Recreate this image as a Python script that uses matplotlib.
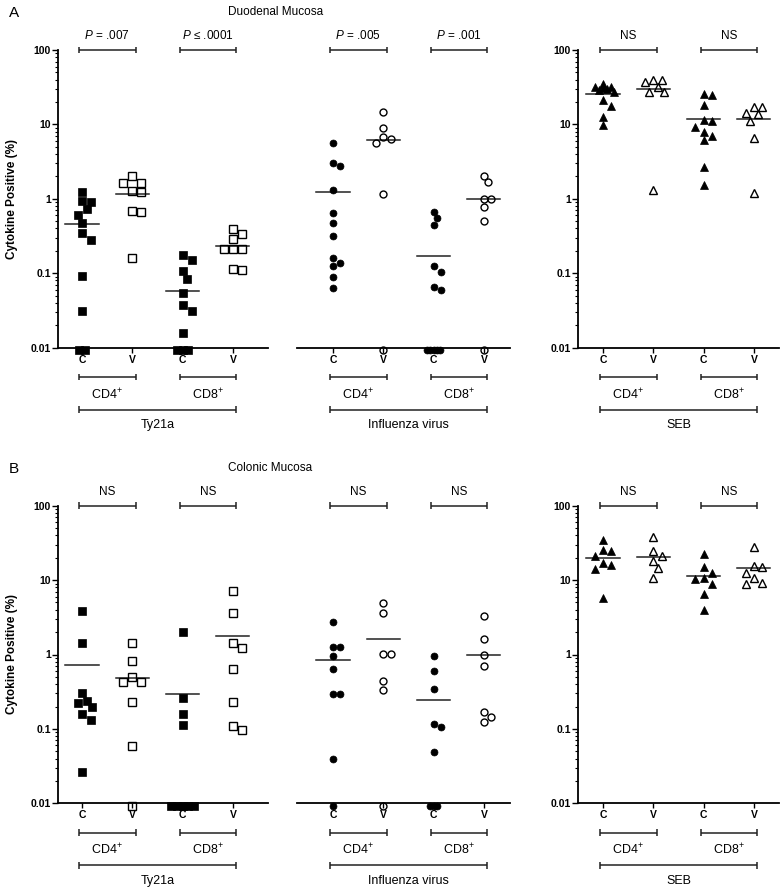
import numpy as np
import matplotlib
matplotlib.use("Agg")
import matplotlib.pyplot as plt
import matplotlib.transforms as mtrans
from matplotlib.ticker import FixedLocator, FixedFormatter, LogLocator, NullFormatter

plt.rcParams['font.family'] = ['Liberation Sans', 'DejaVu Sans']
plt.rcParams['mathtext.fontset'] = 'custom'
plt.rcParams['mathtext.rm'] = 'Liberation Sans'
plt.rcParams['mathtext.it'] = 'Liberation Sans:italic'
plt.rcParams['mathtext.bf'] = 'Liberation Sans:bold'

# ---------------- labels ----------------
cell_labels = ["C", "V", "C", "V"]
subset_labels = ["CD4$^{+}$", "CD8$^{+}$"]
stimuli = ["Ty21a", "Influenza virus", "SEB"]
panel_letters = ["A", "B"]
panel_titles = ["Duodenal Mucosa", "Colonic Mucosa"]
y_label = "Cytokine Positive (%)"
y_ticks = [0.01, 0.1, 1, 10, 100]
y_tick_labels = ["0.01", "0.1", "1", "10", "100"]

duo_p_labels = [["$P$ = .007", "$P$ ≤ .0001"], ["$P$ = .005", "$P$ = .001"], ["NS", "NS"]]
col_p_labels = [["NS", "NS"], ["NS", "NS"], ["NS", "NS"]]

# ---------------- data (% cytokine positive; 0.01 = at/below detection) ----------------
# Duodenal mucosa
duo_ty_cd4_c = [1.23, 0.93, 0.91, 0.72, 0.61, 0.47, 0.35, 0.28, 0.092, 0.031, 0.01, 0.01]
duo_ty_cd4_v = [2.05, 1.65, 1.65, 1.29, 1.22, 0.69, 0.67, 0.16]
duo_ty_cd8_c = [0.176, 0.15, 0.108, 0.085, 0.055, 0.037, 0.031, 0.016, 0.01, 0.01, 0.01]
duo_ty_cd8_v = [0.39, 0.34, 0.29, 0.215, 0.21, 0.21, 0.113, 0.11]
duo_flu_cd4_c = [5.7, 3.0, 2.79, 1.31, 0.65, 0.47, 0.316, 0.16, 0.136, 0.126, 0.09, 0.063]
duo_flu_cd4_v = [14.8, 8.9, 6.7, 6.3, 5.7, 1.17, 0.01]
duo_flu_cd8_c = [0.67, 0.55, 0.45, 0.126, 0.105, 0.066, 0.059, 0.01, 0.01, 0.01, 0.01, 0.01]
duo_flu_cd8_v = [2.05, 1.68, 0.99, 0.99, 0.78, 0.5, 0.01]
duo_seb_cd4_c = [34.9, 31.5, 31.5, 30.5, 30.0, 29.0, 27.5, 21.3, 17.7, 12.7, 9.8]
duo_seb_cd4_v = [39.5, 39.5, 37.6, 32.0, 27.5, 27.0, 1.31]
duo_seb_cd8_c = [25.6, 24.8, 18.2, 11.5, 11.2, 9.3, 8.0, 7.0, 6.2, 2.7, 1.52]
duo_seb_cd8_v = [17.3, 17.0, 14.4, 13.7, 11.2, 6.6, 1.19]
duo_means = [[0.46, 1.16, 0.058, 0.234],
             [1.25, 6.2, 0.172, 0.99],
             [25.4, 29.6, 11.7, 11.8]]

# Colonic mucosa
col_ty_cd4_c = [3.85, 1.44, 0.307, 0.24, 0.225, 0.2, 0.158, 0.132, 0.026]
col_ty_cd4_v = [1.44, 0.82, 0.5, 0.43, 0.43, 0.232, 0.059, 0.01]
col_ty_cd8_c = [2.02, 0.26, 0.158, 0.113, 0.01, 0.01, 0.01, 0.01, 0.01]
col_ty_cd8_v = [7.2, 3.65, 1.41, 1.21, 0.63, 0.228, 0.11, 0.097]
col_flu_cd4_c = [2.76, 1.25, 1.25, 0.96, 0.63, 0.29, 0.29, 0.039, 0.01]
col_flu_cd4_v = [4.88, 3.58, 1.02, 1.02, 0.44, 0.33, 0.01]
col_flu_cd8_c = [0.96, 0.6, 0.347, 0.116, 0.105, 0.049, 0.01, 0.01, 0.01]
col_flu_cd8_v = [3.29, 1.6, 1.0, 0.7, 0.167, 0.146, 0.125]
col_seb_cd4_c = [34.6, 25.4, 24.8, 21.1, 16.8, 16.0, 14.0, 5.8]
col_seb_cd4_v = [37.6, 24.8, 21.0, 18.2, 14.4, 10.8]
col_seb_cd8_c = [22.4, 14.9, 12.6, 10.8, 10.2, 8.8, 6.6, 4.0]
col_seb_cd8_v = [27.6, 15.5, 15.1, 12.6, 10.6, 9.1, 8.9]
col_means = [[0.73, 0.49, 0.29, 1.79],
             [0.84, 1.6, 0.247, 1.0],
             [20.0, 20.2, 11.5, 14.4]]

duo_values = [[duo_ty_cd4_c, duo_ty_cd4_v, duo_ty_cd8_c, duo_ty_cd8_v],
              [duo_flu_cd4_c, duo_flu_cd4_v, duo_flu_cd8_c, duo_flu_cd8_v],
              [duo_seb_cd4_c, duo_seb_cd4_v, duo_seb_cd8_c, duo_seb_cd8_v]]
col_values = [[col_ty_cd4_c, col_ty_cd4_v, col_ty_cd8_c, col_ty_cd8_v],
              [col_flu_cd4_c, col_flu_cd4_v, col_flu_cd8_c, col_flu_cd8_v],
              [col_seb_cd4_c, col_seb_cd4_v, col_seb_cd8_c, col_seb_cd8_v]]

# ---------------- layout / style ----------------
W, H = 780, 890
LOD = 0.01
PX_DEC = 74.4      # px per decade
PX_CAT = 50.3      # px per category
rows_px = [(50.0, 347.7), (505.7, 803.3)]            # (top, bottom)
groups_px = [(58, 268, 82), (297, 510, 333), (578, 779, 603)]  # (left, right, first category)
marker_styles = [dict(marker='s', ms=6.0, d=9.0, tie=5.6, cap=10.0),
                 dict(marker='o', ms=5.0, d=7.4, tie=3.4, cap=9.5),
                 dict(marker='^', ms=5.8, d=8.4, tie=5.0, cap=11.0)]
LINE = '#222222'

fig = plt.figure(figsize=(W / 100, H / 100), dpi=100)


def swarm_offsets(vals, d, tie, cap):
    v = np.asarray(vals, float)
    y = np.log10(np.maximum(v, LOD)) * PX_DEC
    off = np.zeros(len(v))
    floor = v <= LOD
    nf = int(floor.sum())
    off[floor] = (np.arange(nf) - (nf - 1) / 2) * tie
    cands = [0.0]
    step = d / 2
    k = 1
    while k * step <= cap + 1e-6:
        cands += [k * step, -k * step]
        k += 1
    cands += [cap, -cap]
    placed = []
    for i in np.argsort(-v, kind='stable'):
        if floor[i]:
            continue
        best, best_md = 0.0, -1.0
        for c in cands:
            md = min([np.hypot(c - px, y[i] - py) for px, py in placed] or [1e9])
            if md >= d * 0.97:
                best = c
                break
            if md > best_md + 0.5:
                best, best_md = c, md
        off[i] = best
        placed.append((off[i], y[i]))
    return off


def bracket(ax, h_px, x0, x1, y_px, tick_px=3.3):
    tr = mtrans.blended_transform_factory(ax.transData, ax.transAxes)
    y = y_px / h_px
    t = tick_px / h_px
    kw = dict(transform=tr, clip_on=False, color=LINE, lw=1.1, solid_capstyle='butt')
    ax.plot([x0, x1], [y, y], **kw)
    ax.plot([x0, x0], [y - t, y + t], **kw)
    ax.plot([x1, x1], [y - t, y + t], **kw)
    return tr


for r, (top, bot) in enumerate(rows_px):
    values = [duo_values, col_values][r]
    means = [duo_means, col_means][r]
    plabels = [duo_p_labels, col_p_labels][r]
    h_px = bot - top
    for g, (left, right, c0) in enumerate(groups_px):
        ax = fig.add_axes([left / W, 1 - bot / H, (right - left) / W, h_px / H])
        ax.set_xlim((left - c0) / PX_CAT, (right - c0) / PX_CAT)
        ax.set_yscale('log')
        ax.set_ylim(0.01, 100)
        ax.patch.set_alpha(0)
        for s in ['top', 'right']:
            ax.spines[s].set_visible(False)
        ax.spines['bottom'].set_linewidth(1.3)
        ax.spines['left'].set_linewidth(1.3)
        ax.set_xticks(range(4))
        ax.set_xticklabels(cell_labels, fontweight='bold', fontsize=7.5)
        ax.tick_params(axis='x', direction='out', length=3.5, width=1.0, pad=1.5)
        if g == 1:
            ax.spines['left'].set_visible(False)
            ax.yaxis.set_major_locator(FixedLocator([]))
            ax.yaxis.set_minor_locator(FixedLocator([]))
            ax.tick_params(axis='y', which='both', left=False, labelleft=False)
        else:
            ax.yaxis.set_major_locator(FixedLocator(y_ticks))
            ax.yaxis.set_major_formatter(FixedFormatter(y_tick_labels))
            ax.yaxis.set_minor_locator(LogLocator(base=10, subs=np.arange(2, 10)))
            ax.yaxis.set_minor_formatter(NullFormatter())
            ax.tick_params(axis='y', which='major', direction='out', length=4, width=1.0, pad=1)
            ax.tick_params(axis='y', which='minor', direction='out', length=2.2, width=0.8)
            for lab in ax.get_yticklabels():
                lab.set_fontweight('bold')
                lab.set_fontsize(7.5)

        st = marker_styles[g]
        for k in range(4):
            vals = values[g][k]
            off = swarm_offsets(vals, st['d'], st['tie'], st['cap'])
            xs = k + off / PX_CAT
            ys = np.where(np.asarray(vals) <= LOD, LOD * 0.93, vals)
            filled = (k % 2 == 0)
            ax.plot(xs, ys, linestyle='none', marker=st['marker'], ms=st['ms'],
                    mfc='black' if filled else 'none', mec='black',
                    mew=1.0 if not filled else 0.5, clip_on=False, zorder=4)
            ax.plot([k - 0.33, k + 0.33], [means[g][k], means[g][k]],
                    color=LINE, lw=1.1, zorder=3)

        # top p-value brackets
        for j in range(2):
            x0, x1 = 2 * j - 0.06, 2 * j + 1 + 0.07
            tr = bracket(ax, h_px, x0, x1, h_px)
            ax.text(2 * j + 0.5, 1 + 14 / h_px, plabels[g][j], transform=tr,
                    ha='center', va='center', fontsize=8.5)
        # bottom brackets
        for j in range(2):
            x0, x1 = 2 * j - 0.06, 2 * j + 1 + 0.07
            tr = bracket(ax, h_px, x0, x1, -29.4)
            ax.text(2 * j + 0.5, -46.7 / h_px, subset_labels[j], transform=tr,
                    ha='center', va='center', fontsize=9)
        tr = bracket(ax, h_px, -0.06, 3.07, -62)
        ax.text(1.5, -77.4 / h_px, stimuli[g], transform=tr,
                ha='center', va='center', fontsize=9)

    fig.text(12 / W, 1 - (top + bot) / 2 / H, y_label, rotation=90,
             ha='center', va='center', fontsize=8.5, fontweight='bold')
    fig.text(9 / W, 1 - (top - 37) / H, panel_letters[r], ha='left', va='center', fontsize=11)
    fig.text(228 / W, 1 - (top - 35) / H, panel_titles[r], ha='left', va='baseline', fontsize=8.5)

fig.savefig("out.png", dpi=100)
